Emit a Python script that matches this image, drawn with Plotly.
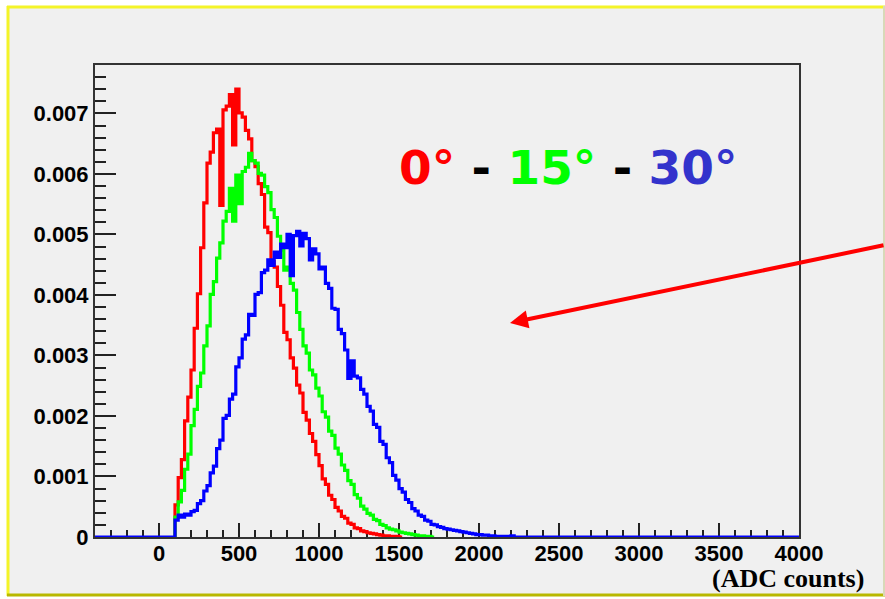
import plotly.graph_objects as go

# ---------------- data ----------------
BIN_WIDTH = 20          # ADC counts per bin
BIN_START = 100         # first non-empty bin low edge
X_RANGE = [-400, 4000]
Y_RANGE = [0, 0.0078]
UNIT = 1e-5             # values below are in units of 1e-5

# 0 degrees (red)
red_vals = [53, 98, 128, 192, 231, 276, 345, 402, 478, 552, 618, 636, 668, 674, 548, 706,
            712, 731, 648, 740, 701, 694, 672, 658, 622, 612, 584, 566, 512, 503, 455, 446,
            414, 383, 338, 326, 296, 279, 251, 238, 206, 193, 171, 158, 136, 118, 96, 87,
            69, 62, 49, 43, 34, 31, 23, 21, 15, 14, 10, 9, 7, 6, 5, 4, 3, 2, 2, 1, 1, 1, 0]

# 15 degrees (green)
green_vals = [33, 58, 77, 112, 137, 184, 211, 249, 271, 316, 349, 401, 422, 461, 486, 522,
              538, 576, 522, 598, 551, 604, 611, 634, 622, 618, 601, 598, 579, 569, 541, 528,
              497, 474, 441, 446, 419, 408, 371, 343, 316, 304, 276, 268, 246, 233, 207, 198,
              175, 168, 147, 137, 119, 110, 93, 87, 70, 64, 51, 46, 39, 36, 29, 27, 21, 19,
              15, 13, 12, 10, 8, 7, 6, 5, 4, 3, 2, 2, 1, 1, 0]

# 30 degrees (blue)
blue_vals = [28, 36, 33, 38, 36, 42, 44, 55, 60, 76, 85, 106, 117, 146, 160, 196,
             201, 228, 236, 281, 296, 327, 334, 368, 366, 401, 404, 437, 441, 458, 449, 471,
             462, 484, 478, 500, 432, 498, 505, 481, 502, 493, 458, 476, 468, 443, 446, 419,
             411, 378, 376, 343, 336, 309, 262, 291, 266, 263, 244, 236, 216, 208, 186, 181,
             158, 153, 131, 123, 102, 94, 80, 74, 62, 57, 47, 43, 36, 34, 28, 26,
             21, 20, 17, 16, 14, 13, 12, 11, 10, 9, 8, 7, 6, 5, 4, 4,
             3, 3, 2, 2, 1, 1, 1, 1, 1, 2, 0]

series = [("0°", red_vals, "#ff0000"),
          ("15°", green_vals, "#00ff00"),
          ("30°", blue_vals, "#0000ff")]

X_TICKS = [0, 500, 1000, 1500, 2000, 2500, 3000, 3500, 4000]
Y_TICKS = [0, 0.001, 0.002, 0.003, 0.004, 0.005, 0.006, 0.007]
Y_TICK_TEXT = ["0", "0.001", "0.002", "0.003", "0.004", "0.005", "0.006", "0.007"]

# ---------------- layout helpers ----------------
W, H = 885, 599
L, R, T, B = 95, 799, 65, 537   # plot area in pixels


def pxx(x):
    return (x - L) / (R - L)


def pxy(y):
    return (B - y) / (B - T)


def step_xy(vals, full):
    edges = [BIN_START + i * BIN_WIDTH for i in range(len(vals) + 1)]
    ys = [v * UNIT for v in vals] + [0]
    if full:
        return [X_RANGE[0]] + edges + [X_RANGE[1]], [0] + ys + [0]
    return [BIN_START] + edges, [0] + ys


fig = go.Figure()
for i, (name, vals, col) in enumerate(series):
    xs, ys = step_xy(vals, full=(i == len(series) - 1))
    fig.add_trace(go.Scatter(x=xs, y=ys, mode="lines", line_shape="hv",
                             line=dict(color=col, width=3.2), name=name,
                             showlegend=False, hoverinfo="skip"))

tickfont = dict(family="Liberation Sans", size=22, color="black", weight="bold")

fig.update_xaxes(range=X_RANGE, tickmode="array", tickvals=X_TICKS,
                 ticktext=[str(v) for v in X_TICKS],
                 ticks="inside", ticklen=14, tickwidth=1.5, tickcolor="#222",
                 minor=dict(ticks="inside", ticklen=7, dtick=100, tick0=0,
                            tickwidth=1.5, tickcolor="#222", showgrid=False),
                 showline=True, linecolor="#333", linewidth=2, mirror=True,
                 showgrid=False, zeroline=False, tickfont=tickfont,
                 ticklabelstandoff=-4, layer="below traces")
fig.update_yaxes(range=Y_RANGE, tickmode="array", tickvals=Y_TICKS,
                 ticktext=Y_TICK_TEXT,
                 ticks="inside", ticklen=21, tickwidth=1.5, tickcolor="#222",
                 minor=dict(ticks="inside", ticklen=11, dtick=0.0002, tick0=0,
                            tickwidth=1.5, tickcolor="#222", showgrid=False),
                 showline=True, linecolor="#333", linewidth=2, mirror=True,
                 showgrid=False, zeroline=False, tickfont=tickfont,
                 layer="below traces")

shapes = [
    dict(type="rect", xref="paper", yref="paper", x0=pxx(8), x1=pxx(884),
         y0=pxy(595), y1=pxy(7), fillcolor="#f0f0f0", line=dict(width=0), layer="below"),
    dict(type="line", xref="paper", yref="paper", x0=pxx(7), x1=pxx(885),
         y0=pxy(7), y1=pxy(7), line=dict(color="#f4f428", width=3), layer="below"),
    dict(type="line", xref="paper", yref="paper", x0=pxx(8), x1=pxx(8),
         y0=pxy(596), y1=pxy(6), line=dict(color="#f4f428", width=3), layer="below"),
    dict(type="line", xref="paper", yref="paper", x0=pxx(7), x1=pxx(885),
         y0=pxy(595), y1=pxy(595), line=dict(color="#b8b800", width=3), layer="below"),
    dict(type="line", xref="paper", yref="paper", x0=pxx(884), x1=pxx(884),
         y0=pxy(596), y1=pxy(6), line=dict(color="#d8d8b8", width=2), layer="below"),
]

annotations = [
    dict(xref="paper", yref="paper", x=pxx(568), y=pxy(167), xanchor="center", yanchor="middle",
         showarrow=False,
         text='<span style="color:#ff0000">0°</span> - <span style="color:#00ff00">15°</span>'
              ' - <span style="color:#3333cc">30°</span>',
         font=dict(family="DejaVu Sans", size=47, color="black", weight="bold")),
    dict(xref="paper", yref="paper", x=pxx(866), y=pxy(578), xanchor="right", yanchor="middle",
         showarrow=False, text="(ADC counts)",
         font=dict(family="Liberation Serif", size=26, color="black", weight="bold")),
    dict(xref="paper", yref="paper", x=pxx(510), y=pxy(323), ax=892 - 510, ay=245 - 323,
         axref="pixel", ayref="pixel", text="", showarrow=True, arrowhead=2,
         arrowsize=0.9, arrowwidth=4, arrowcolor="#ff0000", standoff=0, startstandoff=0),
]

fig.update_layout(width=W, height=H, margin=dict(l=L, r=W - R, t=T, b=H - B, pad=0),
                  paper_bgcolor="white", plot_bgcolor="rgba(0,0,0,0)",
                  shapes=shapes, annotations=annotations, showlegend=False)

fig.write_html("out.html")
